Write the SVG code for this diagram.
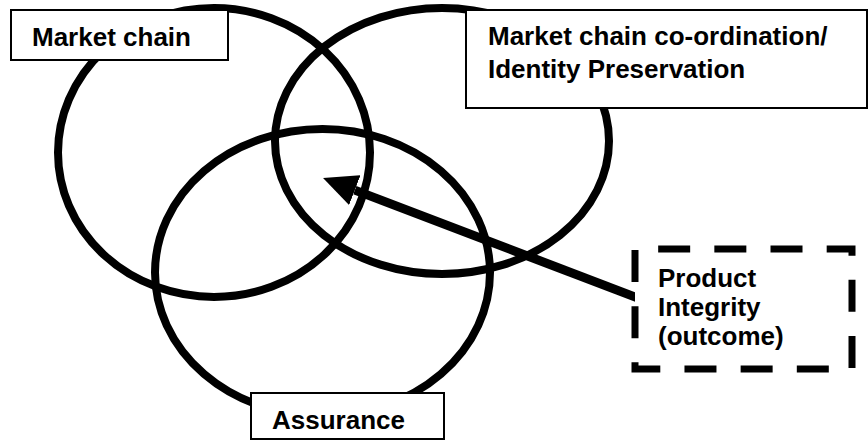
<svg xmlns="http://www.w3.org/2000/svg" width="868" height="442" viewBox="0 0 868 442">
  <style>
    .ring { fill: none; stroke: #000; stroke-width: 8; }
    .box { fill: #fff; stroke: #000; stroke-width: 2; }
    .dashed { fill: #fff; stroke: #000; stroke-width: 7; stroke-dasharray: 32 24.17; stroke-dashoffset: 33; stroke-linejoin: miter; }
    .label { font-family: "Liberation Sans", Arial, sans-serif; font-size: 26px; font-weight: bold; fill: #000; }
    .arrow { stroke: #000; stroke-width: 9; fill: none; marker-end: url(#head); }
  </style>
  <defs>
    <marker id="head" markerUnits="userSpaceOnUse" viewBox="0 -16 34 32" refX="0" refY="0" markerWidth="34" markerHeight="32" orient="auto">
      <path d="M0,-16 L34,0 L0,16 z" fill="#000"/>
    </marker>
  </defs>

  <!-- overlapping circles -->
  <g id="circles">
    <ellipse id="ring-market-chain" class="ring" cx="214" cy="152.5" rx="156" ry="144.5"/>
    <ellipse id="ring-coordination" class="ring" cx="442" cy="141" rx="167" ry="133"/>
    <ellipse id="ring-assurance" class="ring" cx="322.5" cy="272.5" rx="167.5" ry="143.5"/>
  </g>

  <!-- connector from the outcome box into the centre; its tail runs under the box fill -->
  <g id="connectors">
    <line class="arrow" x1="640" y1="298.9" x2="354.8" y2="190.1"/>
  </g>

  <g id="market-chain">
    <rect class="box" x="11" y="10" width="217" height="50"/>
    <text class="label" x="32" y="46">Market chain</text>
  </g>

  <g id="coordination">
    <rect class="box" x="466" y="10" width="401" height="98"/>
    <text class="label" x="488" y="45">Market chain co-ordination/</text>
    <text class="label" x="488" y="78">Identity Preservation</text>
  </g>

  <g id="assurance">
    <rect class="box" x="251" y="393" width="193" height="46"/>
    <text class="label" x="272" y="429">Assurance</text>
  </g>

  <g id="product-integrity">
    <rect class="dashed" x="635" y="249" width="217" height="120"/>
    <text class="label" x="658" y="287">Product</text>
    <text class="label" x="658" y="316">Integrity</text>
    <text class="label" x="658" y="345">(outcome)</text>
  </g>
</svg>
